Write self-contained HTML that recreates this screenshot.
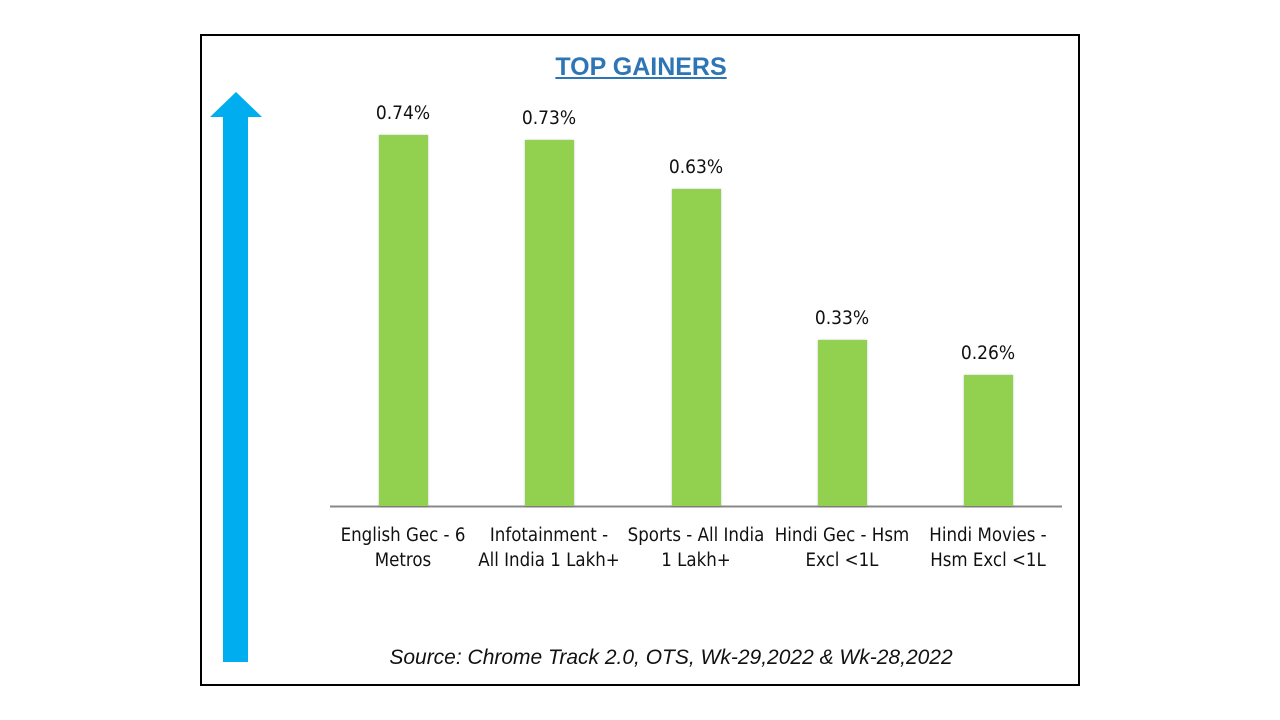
<!DOCTYPE html>
<html><head><style>
body{margin:0;width:1280px;height:720px;background:#fff;position:relative;font-family:"Liberation Sans",sans-serif;overflow:hidden}
.a{position:absolute}
.box{left:200px;top:34px;width:876px;height:648px;border:2px solid #000}
.bar{position:absolute;background:#92D050;box-shadow:0 0 2px rgba(0,0,0,.25);width:49px}
.v{position:absolute;width:120px;text-align:center;font-size:19px;color:#111;font-family:"DejaVu Sans Condensed","Liberation Sans",sans-serif}
.l{position:absolute;width:160px;text-align:center;font-size:18.5px;line-height:25px;color:#111;font-family:"DejaVu Sans Condensed","Liberation Sans",sans-serif}
</style></head><body>
<div class="a box"></div>
<div class="a" style="left:441px;top:53px;width:400px;text-align:center;font-size:25px;font-weight:bold;color:#2E75B6;text-decoration:underline">TOP GAINERS</div>
<svg class="a" style="left:0;top:0" width="1280" height="720"><polygon points="236,92 262,117 248,117 248,662 223,662 223,117 210,117" fill="#00AEEF"/><line x1="330" y1="506.5" x2="1062" y2="506.5" stroke="#888" stroke-width="2"/></svg>
<div class="bar" style="left:379px;top:135px;height:371px"></div>
<div class="bar" style="left:525px;top:140px;height:366px"></div>
<div class="bar" style="left:672px;top:189px;height:317px"></div>
<div class="bar" style="left:818px;top:340px;height:166px"></div>
<div class="bar" style="left:964px;top:375px;height:131px"></div>
<div class="v" style="left:343px;top:102px">0.74%</div>
<div class="v" style="left:489px;top:107px">0.73%</div>
<div class="v" style="left:636px;top:156px">0.63%</div>
<div class="v" style="left:782px;top:307px">0.33%</div>
<div class="v" style="left:928px;top:342px">0.26%</div>
<div class="l" style="left:323px;top:523px">English Gec - 6<br>Metros</div>
<div class="l" style="left:469px;top:523px">Infotainment -<br>All India 1 Lakh+</div>
<div class="l" style="left:616px;top:523px">Sports - All India<br>1 Lakh+</div>
<div class="l" style="left:762px;top:523px">Hindi Gec - Hsm<br>Excl &lt;1L</div>
<div class="l" style="left:908px;top:523px">Hindi Movies -<br>Hsm Excl &lt;1L</div>
<div class="a" style="left:271px;top:646px;width:800px;text-align:center;font-size:21px;font-style:italic;color:#111">Source: Chrome Track 2.0, OTS, Wk-29,2022 &amp; Wk-28,2022</div>
</body></html>
